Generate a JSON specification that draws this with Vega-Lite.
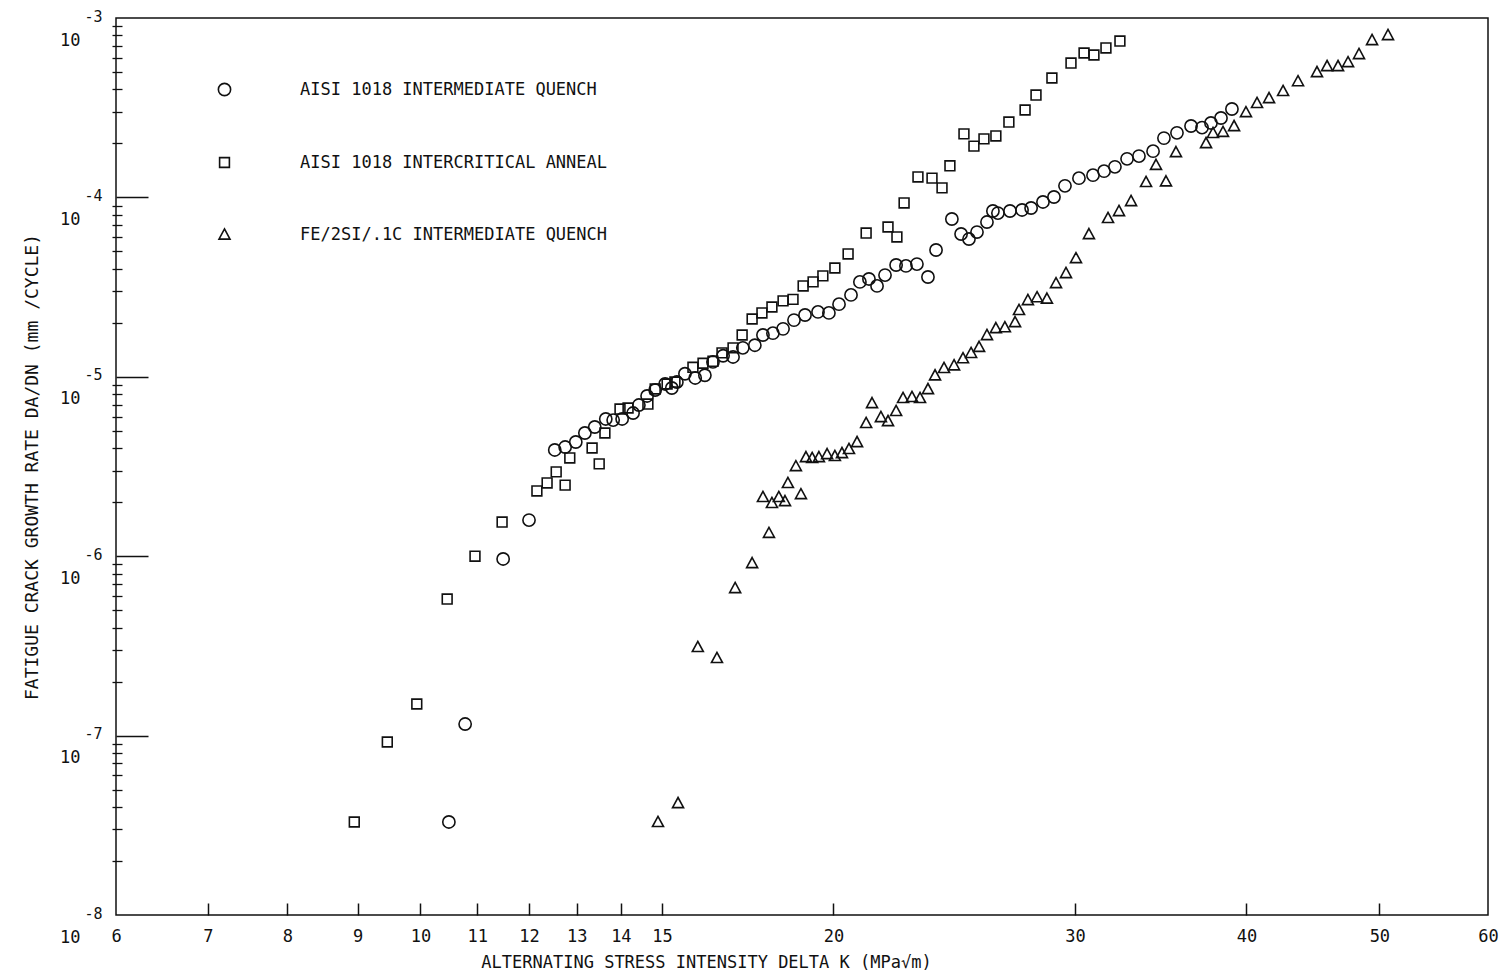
{
  "$schema": "https://vega.github.io/schema/vega-lite/v6.json",
  "width": 1372,
  "height": 897,
  "autosize": {"type": "none"},
  "padding": {"left": 116, "top": 18, "right": 24, "bottom": 65},
  "background": "white",
  "datasets": {
    "pts": [
      {"series": "AISI 1018 INTERMEDIATE QUENCH", "x": 10.49, "y": 3.30e-8},
      {"series": "AISI 1018 INTERMEDIATE QUENCH", "x": 10.78, "y": 1.16e-7},
      {"series": "AISI 1018 INTERMEDIATE QUENCH", "x": 11.49, "y": 9.65e-7},
      {"series": "AISI 1018 INTERMEDIATE QUENCH", "x": 12.0, "y": 1.59e-6},
      {"series": "AISI 1018 INTERMEDIATE QUENCH", "x": 12.53, "y": 3.91e-6},
      {"series": "AISI 1018 INTERMEDIATE QUENCH", "x": 12.75, "y": 4.06e-6},
      {"series": "AISI 1018 INTERMEDIATE QUENCH", "x": 12.98, "y": 4.33e-6},
      {"series": "AISI 1018 INTERMEDIATE QUENCH", "x": 13.18, "y": 4.86e-6},
      {"series": "AISI 1018 INTERMEDIATE QUENCH", "x": 13.40, "y": 5.25e-6},
      {"series": "AISI 1018 INTERMEDIATE QUENCH", "x": 13.65, "y": 5.82e-6},
      {"series": "AISI 1018 INTERMEDIATE QUENCH", "x": 13.82, "y": 5.74e-6},
      {"series": "AISI 1018 INTERMEDIATE QUENCH", "x": 14.03, "y": 5.82e-6},
      {"series": "AISI 1018 INTERMEDIATE QUENCH", "x": 14.29, "y": 6.28e-6},
      {"series": "AISI 1018 INTERMEDIATE QUENCH", "x": 14.43, "y": 6.96e-6},
      {"series": "AISI 1018 INTERMEDIATE QUENCH", "x": 14.63, "y": 7.82e-6},
      {"series": "AISI 1018 INTERMEDIATE QUENCH", "x": 14.83, "y": 8.44e-6},
      {"series": "AISI 1018 INTERMEDIATE QUENCH", "x": 15.08, "y": 9.12e-6},
      {"series": "AISI 1018 INTERMEDIATE QUENCH", "x": 15.25, "y": 8.66e-6},
      {"series": "AISI 1018 INTERMEDIATE QUENCH", "x": 15.38, "y": 9.35e-6},
      {"series": "AISI 1018 INTERMEDIATE QUENCH", "x": 15.59, "y": 1.04e-5},
      {"series": "AISI 1018 INTERMEDIATE QUENCH", "x": 15.86, "y": 9.85e-6},
      {"series": "AISI 1018 INTERMEDIATE QUENCH", "x": 16.12, "y": 1.02e-5},
      {"series": "AISI 1018 INTERMEDIATE QUENCH", "x": 16.34, "y": 1.21e-5},
      {"series": "AISI 1018 INTERMEDIATE QUENCH", "x": 16.62, "y": 1.31e-5},
      {"series": "AISI 1018 INTERMEDIATE QUENCH", "x": 16.90, "y": 1.29e-5},
      {"series": "AISI 1018 INTERMEDIATE QUENCH", "x": 17.18, "y": 1.45e-5},
      {"series": "AISI 1018 INTERMEDIATE QUENCH", "x": 17.53, "y": 1.50e-5},
      {"series": "AISI 1018 INTERMEDIATE QUENCH", "x": 17.77, "y": 1.71e-5},
      {"series": "AISI 1018 INTERMEDIATE QUENCH", "x": 18.07, "y": 1.75e-5},
      {"series": "AISI 1018 INTERMEDIATE QUENCH", "x": 18.38, "y": 1.85e-5},
      {"series": "AISI 1018 INTERMEDIATE QUENCH", "x": 18.72, "y": 2.07e-5},
      {"series": "AISI 1018 INTERMEDIATE QUENCH", "x": 19.07, "y": 2.21e-5},
      {"series": "AISI 1018 INTERMEDIATE QUENCH", "x": 19.49, "y": 2.30e-5},
      {"series": "AISI 1018 INTERMEDIATE QUENCH", "x": 19.85, "y": 2.27e-5},
      {"series": "AISI 1018 INTERMEDIATE QUENCH", "x": 20.19, "y": 2.54e-5},
      {"series": "AISI 1018 INTERMEDIATE QUENCH", "x": 20.60, "y": 2.86e-5},
      {"series": "AISI 1018 INTERMEDIATE QUENCH", "x": 20.91, "y": 3.38e-5},
      {"series": "AISI 1018 INTERMEDIATE QUENCH", "x": 21.23, "y": 3.51e-5},
      {"series": "AISI 1018 INTERMEDIATE QUENCH", "x": 21.52, "y": 3.21e-5},
      {"series": "AISI 1018 INTERMEDIATE QUENCH", "x": 21.81, "y": 3.69e-5},
      {"series": "AISI 1018 INTERMEDIATE QUENCH", "x": 22.22, "y": 4.20e-5},
      {"series": "AISI 1018 INTERMEDIATE QUENCH", "x": 22.59, "y": 4.15e-5},
      {"series": "AISI 1018 INTERMEDIATE QUENCH", "x": 23.01, "y": 4.25e-5},
      {"series": "AISI 1018 INTERMEDIATE QUENCH", "x": 23.44, "y": 3.60e-5},
      {"series": "AISI 1018 INTERMEDIATE QUENCH", "x": 23.76, "y": 5.09e-5},
      {"series": "AISI 1018 INTERMEDIATE QUENCH", "x": 24.40, "y": 7.58e-5},
      {"series": "AISI 1018 INTERMEDIATE QUENCH", "x": 24.78, "y": 6.25e-5},
      {"series": "AISI 1018 INTERMEDIATE QUENCH", "x": 25.11, "y": 5.86e-5},
      {"series": "AISI 1018 INTERMEDIATE QUENCH", "x": 25.45, "y": 6.41e-5},
      {"series": "AISI 1018 INTERMEDIATE QUENCH", "x": 25.88, "y": 7.29e-5},
      {"series": "AISI 1018 INTERMEDIATE QUENCH", "x": 26.14, "y": 8.40e-5},
      {"series": "AISI 1018 INTERMEDIATE QUENCH", "x": 26.36, "y": 8.18e-5},
      {"series": "AISI 1018 INTERMEDIATE QUENCH", "x": 26.90, "y": 8.40e-5},
      {"series": "AISI 1018 INTERMEDIATE QUENCH", "x": 27.45, "y": 8.51e-5},
      {"series": "AISI 1018 INTERMEDIATE QUENCH", "x": 27.87, "y": 8.73e-5},
      {"series": "AISI 1018 INTERMEDIATE QUENCH", "x": 28.43, "y": 9.43e-5},
      {"series": "AISI 1018 INTERMEDIATE QUENCH", "x": 28.96, "y": 1.005e-4},
      {"series": "AISI 1018 INTERMEDIATE QUENCH", "x": 29.50, "y": 1.16e-4},
      {"series": "AISI 1018 INTERMEDIATE QUENCH", "x": 30.20, "y": 1.28e-4},
      {"series": "AISI 1018 INTERMEDIATE QUENCH", "x": 30.92, "y": 1.33e-4},
      {"series": "AISI 1018 INTERMEDIATE QUENCH", "x": 31.50, "y": 1.40e-4},
      {"series": "AISI 1018 INTERMEDIATE QUENCH", "x": 32.08, "y": 1.48e-4},
      {"series": "AISI 1018 INTERMEDIATE QUENCH", "x": 32.74, "y": 1.64e-4},
      {"series": "AISI 1018 INTERMEDIATE QUENCH", "x": 33.40, "y": 1.70e-4},
      {"series": "AISI 1018 INTERMEDIATE QUENCH", "x": 34.20, "y": 1.81e-4},
      {"series": "AISI 1018 INTERMEDIATE QUENCH", "x": 34.83, "y": 2.14e-4},
      {"series": "AISI 1018 INTERMEDIATE QUENCH", "x": 35.60, "y": 2.29e-4},
      {"series": "AISI 1018 INTERMEDIATE QUENCH", "x": 36.45, "y": 2.50e-4},
      {"series": "AISI 1018 INTERMEDIATE QUENCH", "x": 37.13, "y": 2.45e-4},
      {"series": "AISI 1018 INTERMEDIATE QUENCH", "x": 37.69, "y": 2.60e-4},
      {"series": "AISI 1018 INTERMEDIATE QUENCH", "x": 38.33, "y": 2.77e-4},
      {"series": "AISI 1018 INTERMEDIATE QUENCH", "x": 39.04, "y": 3.11e-4},
      {"series": "AISI 1018 INTERCRITICAL ANNEAL", "x": 8.95, "y": 3.30e-8},
      {"series": "AISI 1018 INTERCRITICAL ANNEAL", "x": 9.46, "y": 9.21e-8},
      {"series": "AISI 1018 INTERCRITICAL ANNEAL", "x": 9.94, "y": 1.50e-7},
      {"series": "AISI 1018 INTERCRITICAL ANNEAL", "x": 10.46, "y": 5.77e-7},
      {"series": "AISI 1018 INTERCRITICAL ANNEAL", "x": 10.96, "y": 1.00e-6},
      {"series": "AISI 1018 INTERCRITICAL ANNEAL", "x": 11.47, "y": 1.55e-6},
      {"series": "AISI 1018 INTERCRITICAL ANNEAL", "x": 12.16, "y": 2.31e-6},
      {"series": "AISI 1018 INTERCRITICAL ANNEAL", "x": 12.37, "y": 2.56e-6},
      {"series": "AISI 1018 INTERCRITICAL ANNEAL", "x": 12.56, "y": 2.95e-6},
      {"series": "AISI 1018 INTERCRITICAL ANNEAL", "x": 12.75, "y": 2.49e-6},
      {"series": "AISI 1018 INTERCRITICAL ANNEAL", "x": 12.85, "y": 3.53e-6},
      {"series": "AISI 1018 INTERCRITICAL ANNEAL", "x": 13.34, "y": 4.01e-6},
      {"series": "AISI 1018 INTERCRITICAL ANNEAL", "x": 13.50, "y": 3.27e-6},
      {"series": "AISI 1018 INTERCRITICAL ANNEAL", "x": 13.63, "y": 4.86e-6},
      {"series": "AISI 1018 INTERCRITICAL ANNEAL", "x": 13.98, "y": 6.61e-6},
      {"series": "AISI 1018 INTERCRITICAL ANNEAL", "x": 14.17, "y": 6.70e-6},
      {"series": "AISI 1018 INTERCRITICAL ANNEAL", "x": 14.65, "y": 7.05e-6},
      {"series": "AISI 1018 INTERCRITICAL ANNEAL", "x": 14.83, "y": 8.55e-6},
      {"series": "AISI 1018 INTERCRITICAL ANNEAL", "x": 15.13, "y": 9.12e-6},
      {"series": "AISI 1018 INTERCRITICAL ANNEAL", "x": 15.33, "y": 9.35e-6},
      {"series": "AISI 1018 INTERCRITICAL ANNEAL", "x": 15.80, "y": 1.13e-5},
      {"series": "AISI 1018 INTERCRITICAL ANNEAL", "x": 16.07, "y": 1.19e-5},
      {"series": "AISI 1018 INTERCRITICAL ANNEAL", "x": 16.34, "y": 1.22e-5},
      {"series": "AISI 1018 INTERCRITICAL ANNEAL", "x": 16.59, "y": 1.36e-5},
      {"series": "AISI 1018 INTERCRITICAL ANNEAL", "x": 16.90, "y": 1.45e-5},
      {"series": "AISI 1018 INTERCRITICAL ANNEAL", "x": 17.16, "y": 1.71e-5},
      {"series": "AISI 1018 INTERCRITICAL ANNEAL", "x": 17.45, "y": 2.10e-5},
      {"series": "AISI 1018 INTERCRITICAL ANNEAL", "x": 17.74, "y": 2.27e-5},
      {"series": "AISI 1018 INTERCRITICAL ANNEAL", "x": 18.04, "y": 2.45e-5},
      {"series": "AISI 1018 INTERCRITICAL ANNEAL", "x": 18.38, "y": 2.65e-5},
      {"series": "AISI 1018 INTERCRITICAL ANNEAL", "x": 18.69, "y": 2.70e-5},
      {"series": "AISI 1018 INTERCRITICAL ANNEAL", "x": 19.01, "y": 3.21e-5},
      {"series": "AISI 1018 INTERCRITICAL ANNEAL", "x": 19.33, "y": 3.38e-5},
      {"series": "AISI 1018 INTERCRITICAL ANNEAL", "x": 19.65, "y": 3.65e-5},
      {"series": "AISI 1018 INTERCRITICAL ANNEAL", "x": 20.05, "y": 4.04e-5},
      {"series": "AISI 1018 INTERCRITICAL ANNEAL", "x": 20.50, "y": 4.84e-5},
      {"series": "AISI 1018 INTERCRITICAL ANNEAL", "x": 21.13, "y": 6.33e-5},
      {"series": "AISI 1018 INTERCRITICAL ANNEAL", "x": 21.92, "y": 6.84e-5},
      {"series": "AISI 1018 INTERCRITICAL ANNEAL", "x": 22.25, "y": 6.02e-5},
      {"series": "AISI 1018 INTERCRITICAL ANNEAL", "x": 22.52, "y": 9.31e-5},
      {"series": "AISI 1018 INTERCRITICAL ANNEAL", "x": 23.05, "y": 1.30e-4},
      {"series": "AISI 1018 INTERCRITICAL ANNEAL", "x": 23.60, "y": 1.28e-4},
      {"series": "AISI 1018 INTERCRITICAL ANNEAL", "x": 24.00, "y": 1.13e-4},
      {"series": "AISI 1018 INTERCRITICAL ANNEAL", "x": 24.32, "y": 1.50e-4},
      {"series": "AISI 1018 INTERCRITICAL ANNEAL", "x": 24.90, "y": 2.26e-4},
      {"series": "AISI 1018 INTERCRITICAL ANNEAL", "x": 25.32, "y": 1.93e-4},
      {"series": "AISI 1018 INTERCRITICAL ANNEAL", "x": 25.75, "y": 2.12e-4},
      {"series": "AISI 1018 INTERCRITICAL ANNEAL", "x": 26.27, "y": 2.20e-4},
      {"series": "AISI 1018 INTERCRITICAL ANNEAL", "x": 26.85, "y": 2.63e-4},
      {"series": "AISI 1018 INTERCRITICAL ANNEAL", "x": 27.59, "y": 3.07e-4},
      {"series": "AISI 1018 INTERCRITICAL ANNEAL", "x": 28.10, "y": 3.72e-4},
      {"series": "AISI 1018 INTERCRITICAL ANNEAL", "x": 28.86, "y": 4.63e-4},
      {"series": "AISI 1018 INTERCRITICAL ANNEAL", "x": 29.80, "y": 5.61e-4},
      {"series": "AISI 1018 INTERCRITICAL ANNEAL", "x": 30.46, "y": 6.38e-4},
      {"series": "AISI 1018 INTERCRITICAL ANNEAL", "x": 30.97, "y": 6.22e-4},
      {"series": "AISI 1018 INTERCRITICAL ANNEAL", "x": 31.60, "y": 6.81e-4},
      {"series": "AISI 1018 INTERCRITICAL ANNEAL", "x": 32.35, "y": 7.44e-4},
      {"series": "FE/2SI/.1C INTERMEDIATE QUENCH", "x": 14.90, "y": 3.30e-8},
      {"series": "FE/2SI/.1C INTERMEDIATE QUENCH", "x": 15.41, "y": 4.21e-8},
      {"series": "FE/2SI/.1C INTERMEDIATE QUENCH", "x": 15.93, "y": 3.12e-7},
      {"series": "FE/2SI/.1C INTERMEDIATE QUENCH", "x": 16.45, "y": 2.71e-7},
      {"series": "FE/2SI/.1C INTERMEDIATE QUENCH", "x": 16.96, "y": 6.65e-7},
      {"series": "FE/2SI/.1C INTERMEDIATE QUENCH", "x": 17.45, "y": 9.16e-7},
      {"series": "FE/2SI/.1C INTERMEDIATE QUENCH", "x": 17.95, "y": 1.35e-6},
      {"series": "FE/2SI/.1C INTERMEDIATE QUENCH", "x": 17.77, "y": 2.14e-6},
      {"series": "FE/2SI/.1C INTERMEDIATE QUENCH", "x": 18.04, "y": 1.98e-6},
      {"series": "FE/2SI/.1C INTERMEDIATE QUENCH", "x": 18.25, "y": 2.14e-6},
      {"series": "FE/2SI/.1C INTERMEDIATE QUENCH", "x": 18.44, "y": 2.03e-6},
      {"series": "FE/2SI/.1C INTERMEDIATE QUENCH", "x": 18.94, "y": 2.22e-6},
      {"series": "FE/2SI/.1C INTERMEDIATE QUENCH", "x": 18.53, "y": 2.56e-6},
      {"series": "FE/2SI/.1C INTERMEDIATE QUENCH", "x": 18.78, "y": 3.18e-6},
      {"series": "FE/2SI/.1C INTERMEDIATE QUENCH", "x": 19.10, "y": 3.57e-6},
      {"series": "FE/2SI/.1C INTERMEDIATE QUENCH", "x": 19.30, "y": 3.53e-6},
      {"series": "FE/2SI/.1C INTERMEDIATE QUENCH", "x": 19.52, "y": 3.57e-6},
      {"series": "FE/2SI/.1C INTERMEDIATE QUENCH", "x": 19.79, "y": 3.71e-6},
      {"series": "FE/2SI/.1C INTERMEDIATE QUENCH", "x": 20.05, "y": 3.62e-6},
      {"series": "FE/2SI/.1C INTERMEDIATE QUENCH", "x": 20.29, "y": 3.76e-6},
      {"series": "FE/2SI/.1C INTERMEDIATE QUENCH", "x": 20.53, "y": 3.96e-6},
      {"series": "FE/2SI/.1C INTERMEDIATE QUENCH", "x": 20.81, "y": 4.33e-6},
      {"series": "FE/2SI/.1C INTERMEDIATE QUENCH", "x": 21.13, "y": 5.53e-6},
      {"series": "FE/2SI/.1C INTERMEDIATE QUENCH", "x": 21.34, "y": 7.14e-6},
      {"series": "FE/2SI/.1C INTERMEDIATE QUENCH", "x": 21.66, "y": 5.97e-6},
      {"series": "FE/2SI/.1C INTERMEDIATE QUENCH", "x": 21.92, "y": 5.67e-6},
      {"series": "FE/2SI/.1C INTERMEDIATE QUENCH", "x": 22.22, "y": 6.45e-6},
      {"series": "FE/2SI/.1C INTERMEDIATE QUENCH", "x": 22.48, "y": 7.62e-6},
      {"series": "FE/2SI/.1C INTERMEDIATE QUENCH", "x": 22.82, "y": 7.72e-6},
      {"series": "FE/2SI/.1C INTERMEDIATE QUENCH", "x": 23.13, "y": 7.62e-6},
      {"series": "FE/2SI/.1C INTERMEDIATE QUENCH", "x": 23.44, "y": 8.55e-6},
      {"series": "FE/2SI/.1C INTERMEDIATE QUENCH", "x": 23.72, "y": 1.02e-5},
      {"series": "FE/2SI/.1C INTERMEDIATE QUENCH", "x": 24.08, "y": 1.12e-5},
      {"series": "FE/2SI/.1C INTERMEDIATE QUENCH", "x": 24.49, "y": 1.16e-5},
      {"series": "FE/2SI/.1C INTERMEDIATE QUENCH", "x": 24.86, "y": 1.27e-5},
      {"series": "FE/2SI/.1C INTERMEDIATE QUENCH", "x": 25.20, "y": 1.36e-5},
      {"series": "FE/2SI/.1C INTERMEDIATE QUENCH", "x": 25.54, "y": 1.47e-5},
      {"series": "FE/2SI/.1C INTERMEDIATE QUENCH", "x": 25.88, "y": 1.71e-5},
      {"series": "FE/2SI/.1C INTERMEDIATE QUENCH", "x": 26.27, "y": 1.87e-5},
      {"series": "FE/2SI/.1C INTERMEDIATE QUENCH", "x": 26.67, "y": 1.89e-5},
      {"series": "FE/2SI/.1C INTERMEDIATE QUENCH", "x": 27.13, "y": 2.02e-5},
      {"series": "FE/2SI/.1C INTERMEDIATE QUENCH", "x": 27.31, "y": 2.36e-5},
      {"series": "FE/2SI/.1C INTERMEDIATE QUENCH", "x": 27.72, "y": 2.68e-5},
      {"series": "FE/2SI/.1C INTERMEDIATE QUENCH", "x": 28.15, "y": 2.78e-5},
      {"series": "FE/2SI/.1C INTERMEDIATE QUENCH", "x": 28.62, "y": 2.73e-5},
      {"series": "FE/2SI/.1C INTERMEDIATE QUENCH", "x": 29.06, "y": 3.33e-5},
      {"series": "FE/2SI/.1C INTERMEDIATE QUENCH", "x": 29.55, "y": 3.79e-5},
      {"series": "FE/2SI/.1C INTERMEDIATE QUENCH", "x": 30.05, "y": 4.59e-5},
      {"series": "FE/2SI/.1C INTERMEDIATE QUENCH", "x": 30.71, "y": 6.25e-5},
      {"series": "FE/2SI/.1C INTERMEDIATE QUENCH", "x": 31.71, "y": 7.68e-5},
      {"series": "FE/2SI/.1C INTERMEDIATE QUENCH", "x": 32.30, "y": 8.40e-5},
      {"series": "FE/2SI/.1C INTERMEDIATE QUENCH", "x": 32.96, "y": 9.55e-5},
      {"series": "FE/2SI/.1C INTERMEDIATE QUENCH", "x": 33.80, "y": 1.22e-4},
      {"series": "FE/2SI/.1C INTERMEDIATE QUENCH", "x": 34.37, "y": 1.52e-4},
      {"series": "FE/2SI/.1C INTERMEDIATE QUENCH", "x": 34.95, "y": 1.23e-4},
      {"series": "FE/2SI/.1C INTERMEDIATE QUENCH", "x": 35.54, "y": 1.79e-4},
      {"series": "FE/2SI/.1C INTERMEDIATE QUENCH", "x": 37.38, "y": 2.01e-4},
      {"series": "FE/2SI/.1C INTERMEDIATE QUENCH", "x": 37.82, "y": 2.29e-4},
      {"series": "FE/2SI/.1C INTERMEDIATE QUENCH", "x": 38.46, "y": 2.32e-4},
      {"series": "FE/2SI/.1C INTERMEDIATE QUENCH", "x": 39.18, "y": 2.50e-4},
      {"series": "FE/2SI/.1C INTERMEDIATE QUENCH", "x": 39.97, "y": 2.99e-4},
      {"series": "FE/2SI/.1C INTERMEDIATE QUENCH", "x": 40.72, "y": 3.36e-4},
      {"series": "FE/2SI/.1C INTERMEDIATE QUENCH", "x": 41.55, "y": 3.58e-4},
      {"series": "FE/2SI/.1C INTERMEDIATE QUENCH", "x": 42.54, "y": 3.92e-4},
      {"series": "FE/2SI/.1C INTERMEDIATE QUENCH", "x": 43.62, "y": 4.45e-4},
      {"series": "FE/2SI/.1C INTERMEDIATE QUENCH", "x": 45.03, "y": 5.00e-4},
      {"series": "FE/2SI/.1C INTERMEDIATE QUENCH", "x": 45.80, "y": 5.40e-4},
      {"series": "FE/2SI/.1C INTERMEDIATE QUENCH", "x": 46.65, "y": 5.40e-4},
      {"series": "FE/2SI/.1C INTERMEDIATE QUENCH", "x": 47.44, "y": 5.68e-4},
      {"series": "FE/2SI/.1C INTERMEDIATE QUENCH", "x": 48.32, "y": 6.30e-4},
      {"series": "FE/2SI/.1C INTERMEDIATE QUENCH", "x": 49.39, "y": 7.54e-4},
      {"series": "FE/2SI/.1C INTERMEDIATE QUENCH", "x": 50.73, "y": 8.04e-4}
    ]
  },
  "data": {"name": "pts"},
  "layer": [
    {
      "mark": {"type": "point", "opacity": 0},
      "encoding": {
        "x": {"field": "x", "type": "quantitative", "scale": {"type": "log", "domain": [6, 60], "nice": false},
          "axis": {"orient": "bottom", "values": [7, 8, 9, 10, 11, 12, 13, 14, 15, 20, 30, 40, 50], "labels": false, "ticks": true, "tickSize": 12, "offset": -12, "tickWidth": 1.5, "domain": false, "title": null}},
        "y": {"field": "y", "type": "quantitative", "scale": {"type": "log", "domain": [1e-8, 1e-3], "nice": false},
          "axis": {"orient": "left", "values": [1e-7, 1e-6, 1e-5, 1e-4], "labels": false, "ticks": true, "tickSize": 32, "offset": -32, "tickWidth": 1.5, "domain": false, "title": null}}
      }
    },
    {
      "mark": {"type": "point", "opacity": 0},
      "encoding": {
        "x": {"field": "x", "type": "quantitative", "scale": {"type": "log", "domain": [6, 60], "nice": false}, "axis": null},
        "y": {"field": "y", "type": "quantitative", "scale": {"type": "log", "domain": [1e-8, 1e-3], "nice": false},
          "axis": {"orient": "left", "values": [2e-8, 3e-8, 4e-8, 5e-8, 6e-8, 7e-8, 8e-8, 9e-8, 2e-7, 3e-7, 4e-7, 5e-7, 6e-7, 7e-7, 8e-7, 9e-7, 2e-6, 3e-6, 4e-6, 5e-6, 6e-6, 7e-6, 8e-6, 9e-6, 2e-5, 3e-5, 4e-5, 5e-5, 6e-5, 7e-5, 8e-5, 9e-5, 2e-4, 3e-4, 4e-4, 5e-4, 6e-4, 7e-4, 8e-4, 9e-4], "labels": false, "ticks": true, "tickSize": 10, "offset": -6, "tickWidth": 1.3, "domain": false, "title": null}}
      }
    },
    {
      "mark": {"type": "point", "opacity": 0},
      "encoding": {
        "x": {"field": "x", "type": "quantitative", "scale": {"type": "log", "domain": [6, 60], "nice": false}, "axis": null},
        "y": {"field": "y", "type": "quantitative", "scale": {"type": "log", "domain": [1e-8, 1e-3], "nice": false},
          "axis": {"orient": "left", "values": [1e-8, 1e-7, 1e-6, 1e-5, 1e-4, 1e-3], "labelExpr": "'-' + round(-log(datum.value) / LN10)", "ticks": false, "domain": false, "labelPadding": 14, "labelOffset": -2, "labelFontSize": 15, "title": null}}
      }
    },
    {
      "mark": {"type": "point", "filled": false, "strokeWidth": 1.6, "color": "#111", "size": 150, "opacity": 1},
      "encoding": {
        "x": {"field": "x", "type": "quantitative", "scale": {"type": "log", "domain": [6, 60], "nice": false},
          "axis": {"orient": "bottom", "values": [6, 7, 8, 9, 10, 11, 12, 13, 14, 15, 20, 30, 40, 50, 60], "format": "d", "ticks": false, "domain": false, "labelPadding": 13, "labelFontSize": 17,
            "title": "ALTERNATING STRESS INTENSITY   DELTA K   (MPa√m)", "titleFontSize": 17, "titleX": 590, "titleY": 47, "titleAlign": "center", "titleBaseline": "middle"}},
        "y": {"field": "y", "type": "quantitative", "scale": {"type": "log", "domain": [1e-8, 1e-3], "nice": false},
          "axis": {"orient": "left", "values": [1e-8, 1e-7, 1e-6, 1e-5, 1e-4, 1e-3], "labelExpr": "'10'", "ticks": false, "domain": false, "labelPadding": 36, "labelOffset": 22, "labelFontSize": 17,
            "title": "FATIGUE CRACK GROWTH RATE DA/DN   (mm /CYCLE)", "titleFontSize": 18, "titleX": -84, "titleY": 448.5, "titleAngle": -90, "titleAlign": "center", "titleBaseline": "middle"}},
        "shape": {"field": "series", "type": "nominal",
          "scale": {"domain": ["AISI 1018 INTERMEDIATE QUENCH", "AISI 1018 INTERCRITICAL ANNEAL", "FE/2SI/.1C INTERMEDIATE QUENCH"],
                    "range": ["circle", "M-0.8,-0.8H0.8V0.8H-0.8Z", "M0,-0.9L0.9,0.75L-0.9,0.75Z"]},
          "legend": {"title": null, "orient": "none", "legendX": 100, "legendY": 63, "padding": 0, "rowPadding": 54, "labelOffset": 67, "labelFontSize": 17, "labelFont": "DejaVu Sans Mono", "labelColor": "#111", "symbolSize": 150, "symbolStrokeWidth": 1.6, "symbolStrokeColor": "#111", "symbolFillColor": "transparent", "labelLimit": 700}}
      }
    }
  ],
  "resolve": {"axis": {"x": "independent", "y": "independent"}},
  "config": {
    "view": {"stroke": "#111", "strokeWidth": 1.5},
    "font": "DejaVu Sans Mono",
    "axis": {"labelFont": "DejaVu Sans Mono", "titleFont": "DejaVu Sans Mono", "labelColor": "#111", "titleColor": "#111", "tickColor": "#111", "titleFontWeight": "normal", "labelFlush": false, "labelOverlap": false, "grid": false}
  }
}
